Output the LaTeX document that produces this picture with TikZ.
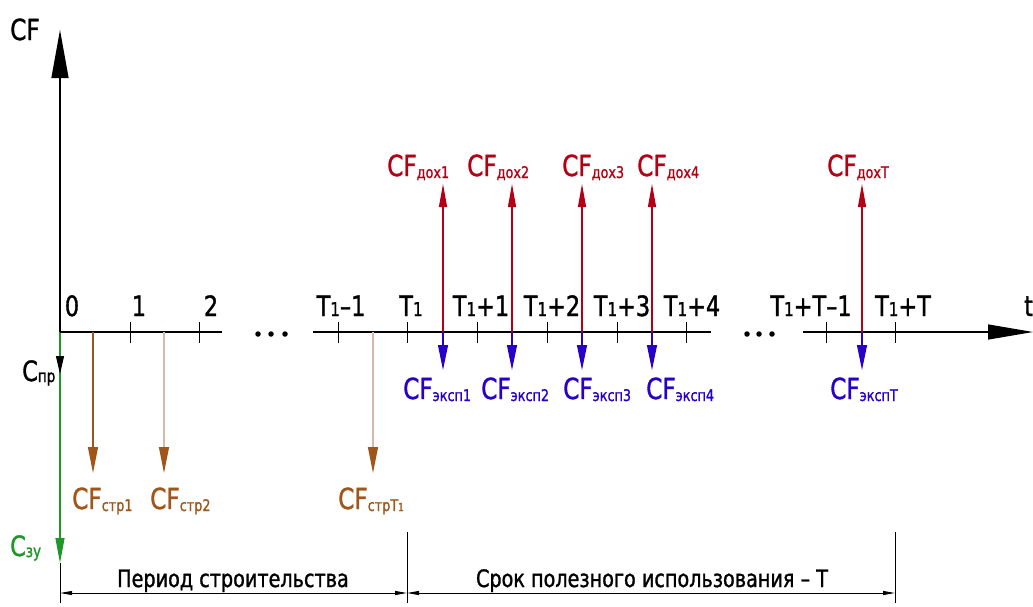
\documentclass[tikz,border=0pt]{standalone}
\usepackage{fontspec}
\setmainfont[FakeStretch=0.8,FakeBold=1.2]{DejaVu Sans}
\usetikzlibrary{arrows.meta}
\definecolor{cfred}{RGB}{180,0,20}
\definecolor{cfblue}{RGB}{40,0,200}
\definecolor{cfbrown}{RGB}{160,85,25}
\definecolor{cftan}{RGB}{215,185,170}
\definecolor{cfgreen}{RGB}{30,150,40}
\newcommand\Tn{T{\fontsize{19}{19}\selectfont 1}}
\newcommand\lsub[1]{\raisebox{-2pt}{\fontsize{16}{16}\selectfont #1}}
\begin{document}
\begin{tikzpicture}[x=1pt,y=-1pt,
  axlab/.style={anchor=base,inner sep=0pt,font=\fontsize{28}{28}\selectfont},
  cflab/.style={anchor=base west,inner sep=0pt,font=\fontsize{29}{29}\selectfont},
  clab/.style={anchor=base west,inner sep=0pt,font=\fontsize{28}{28}\selectfont},
  dimtext/.style={anchor=base,inner sep=0pt,font=\fontsize{24}{24}\selectfont},
  axis/.style={line width=1.3pt,black},
  tick/.style={line width=1pt,black},
  redarr/.style={line width=1.1pt,cfred,-{Triangle[length=23pt,width=8pt]}},
  bluearr/.style={line width=1.1pt,cfblue,-{Triangle[length=25pt,width=10pt]}},
  brownarr/.style={line width=1.1pt,cfbrown,-{Triangle[length=26pt,width=10pt,color=cfbrown]}},
  dimarr/.style={line width=1pt,black,{Triangle[length=12pt,width=4pt]}-{Triangle[length=12pt,width=4pt]}},
  dot/.style={circle,fill=black,inner sep=0pt,minimum size=5.5pt}
]
\useasboundingbox (0,0) rectangle (1033,606);

% key coordinates
\coordinate (O) at (60,332);
\coordinate (Ytop) at (60,30);
\coordinate (Gend) at (60,563);
\coordinate (Ybot) at (60,603);
\coordinate (S1) at (222,332);
\coordinate (S2a) at (313,332);
\coordinate (S2b) at (711,332);
\coordinate (S3a) at (803,332);
\coordinate (Xend) at (1033,332);

% vertical axis
\draw[axis,-{Triangle[length=48pt,width=17pt]}] (O) -- (Ytop);
\draw[line width=1.1pt,cfgreen,-{Triangle[length=25pt,width=9pt]}] (O) -- (Gend);
\draw[line width=1pt] (Gend) -- (Ybot);
\coordinate (Pa) at (60,356);
\coordinate (Pb) at (60,374);
\draw[line width=1pt,-{Triangle[length=18pt,width=8pt]}] (Pa) -- (Pb);

% horizontal axis
\draw[axis] (O) -- (S1);
\draw[axis] (S2a) -- (S2b);
\draw[axis,-{Triangle[length=45pt,width=15pt]}] (S3a) -- (Xend);
\node[dot] (d1) at (258,334) {};
\node[dot] (d2) at (271,334) {};
\node[dot] (d3) at (285,334) {};
\node[dot] (d4) at (747,334) {};
\node[dot] (d5) at (759,334) {};
\node[dot] (d6) at (772,334) {};

% ticks
\foreach \x in {130,199,338,407,477,547,617,686,826,895}
  \draw[tick] (\x,322) -- (\x,343);

% axis labels
\node[axlab] (l0) at (72,316) {0};
\node[axlab] (l1) at (139,316) {1};
\node[axlab] (l2) at (211,316) {2};
\node[axlab] (l3) at (341,316) {\Tn–1};
\node[axlab] (l4) at (411,316) {\Tn};
\node[axlab] (l5) at (481,316) {\Tn+1};
\node[axlab] (l6) at (552,316) {\Tn+2};
\node[axlab] (l7) at (622,316) {\Tn+3};
\node[axlab] (l8) at (692,316) {\Tn+4};
\node[axlab] (l9) at (811,316) {\Tn+T–1};
\node[axlab] (l10) at (903,316) {\Tn+T};
\node[axlab,anchor=base west] (lt) at (1024,316) {t};
\node[cflab] (cf) at (10,40) {CF};

% inflows (red)
\foreach \x/\n in {443/1,512/2,582/3,652/4,862/T}{
  \coordinate (ra\n) at (\x,332);
  \coordinate (rb\n) at (\x,184);
  \draw[redarr] (ra\n) -- (rb\n);
}
\node[cflab,cfred] (cd1) at (387,176) {CF\lsub{дох1}};
\node[cflab,cfred] (cd2) at (467,176) {CF\lsub{дох2}};
\node[cflab,cfred] (cd3) at (562,176) {CF\lsub{дох3}};
\node[cflab,cfred] (cd4) at (637,176) {CF\lsub{дох4}};
\node[cflab,cfred] (cdT) at (827,176) {CF\lsub{дохT}};

% operating outflows (blue)
\foreach \x/\n in {443/1,512/2,582/3,652/4,862/T}{
  \coordinate (ba\n) at (\x,332);
  \coordinate (bb\n) at (\x,370);
  \draw[bluearr] (ba\n) -- (bb\n);
}
\node[cflab,cfblue] (ce1) at (403,399) {CF\lsub{эксп1}};
\node[cflab,cfblue] (ce2) at (481,399) {CF\lsub{эксп2}};
\node[cflab,cfblue] (ce3) at (563,399) {CF\lsub{эксп3}};
\node[cflab,cfblue] (ce4) at (646,399) {CF\lsub{эксп4}};
\node[cflab,cfblue] (ceT) at (830,399) {CF\lsub{экспT}};

% construction outflows (brown)
\coordinate (c1a) at (93,332);  \coordinate (c1b) at (93,473);
\coordinate (c2a) at (164,332); \coordinate (c2b) at (164,473);
\coordinate (c3a) at (373,332); \coordinate (c3b) at (373,473);
\draw[brownarr] (c1a) -- (c1b);
\draw[brownarr,cftan] (c2a) -- (c2b);
\draw[brownarr,cftan] (c3a) -- (c3b);
\node[cflab,cfbrown] (cs1) at (72,509) {CF\lsub{стр1}};
\node[cflab,cfbrown] (cs2) at (150,509) {CF\lsub{стр2}};
\node[cflab,cfbrown] (cs3) at (338,509) {CF\lsub{стрT{\fontsize{11}{11}\selectfont 1}}};

% C labels
\node[clab] (cpr) at (22,381) {C\raisebox{-1pt}{\fontsize{17}{17}\selectfont пр}};
\node[clab,cfgreen] (czu) at (10,556) {C\raisebox{-1pt}{\fontsize{17}{17}\selectfont зу}};

% dimension lines
\coordinate (e1a) at (407,532); \coordinate (e1b) at (407,603);
\coordinate (e2a) at (895,532); \coordinate (e2b) at (895,603);
\draw[line width=1pt] (e1a) -- (e1b);
\draw[line width=1pt] (e2a) -- (e2b);
\coordinate (m0) at (60,593);
\coordinate (m1) at (407,593);
\coordinate (m2) at (895,593);
\draw[dimarr] (m0) -- (m1);
\draw[dimarr] (m1) -- (m2);
\node[dimtext] (p1) at (233,587) {Период строительства};
\node[dimtext] (p2) at (652,587) {Срок полезного использования – T};
\end{tikzpicture}
\end{document}
